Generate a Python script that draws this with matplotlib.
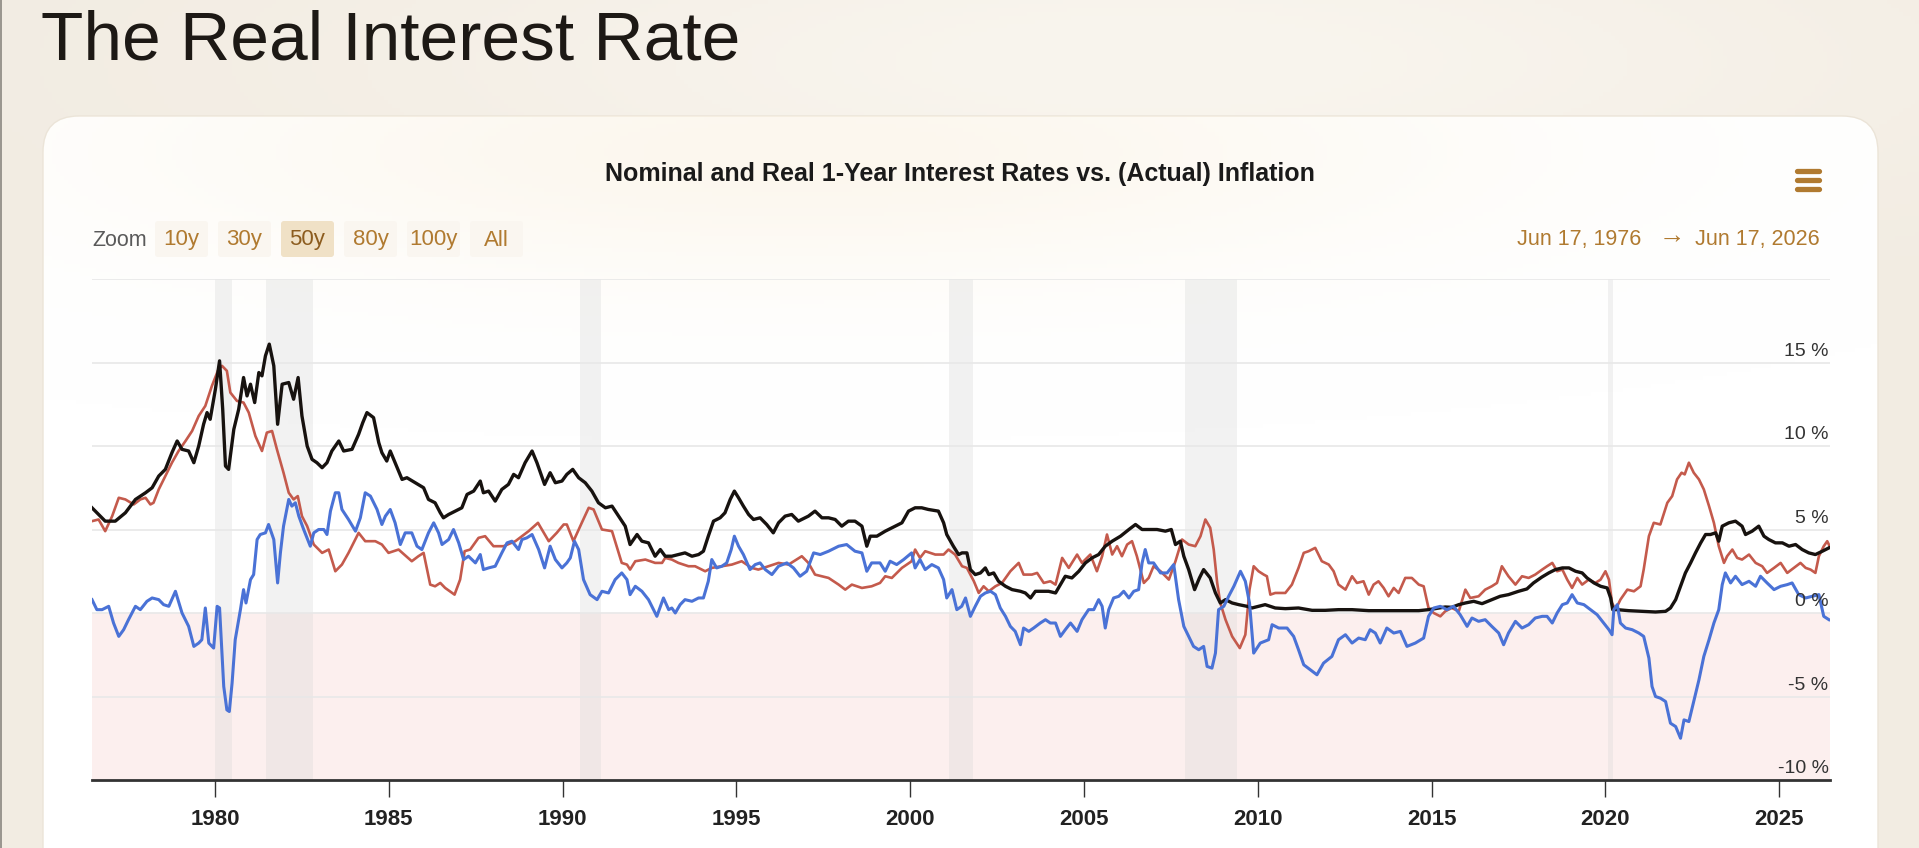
import numpy as np
import matplotlib
matplotlib.use("Agg")
import matplotlib.pyplot as plt
from matplotlib.patches import FancyBboxPatch

plt.rcParams['font.family'] = ['Liberation Sans', 'DejaVu Sans']

# ---- data (decimal years, percent) ----
nominal_year = [
    1976.46, 1976.84, 1977.13, 1977.42, 1977.71, 1978.00, 1978.19, 1978.38, 1978.57, 1978.76,
    1978.91, 1979.05, 1979.24, 1979.39, 1979.53, 1979.67, 1979.77, 1979.86, 1980.01, 1980.13,
    1980.22, 1980.30, 1980.39, 1980.54, 1980.68, 1980.82, 1980.92, 1981.02, 1981.14, 1981.26,
    1981.35, 1981.45, 1981.56, 1981.69, 1981.80, 1981.93, 1982.12, 1982.26, 1982.39, 1982.50,
    1982.65, 1982.79, 1982.93, 1983.08, 1983.22, 1983.36, 1983.56, 1983.70, 1983.94, 1984.13,
    1984.25, 1984.37, 1984.56, 1984.71, 1984.80, 1984.94, 1985.04, 1985.18, 1985.38, 1985.52,
    1985.76, 1986.00, 1986.14, 1986.33, 1986.48, 1986.57, 1986.72, 1986.91, 1987.10, 1987.25,
    1987.44, 1987.63, 1987.72, 1987.87, 1988.06, 1988.25, 1988.44, 1988.59, 1988.73, 1988.92,
    1989.12, 1989.26, 1989.48, 1989.64, 1989.79, 1989.98, 1990.12, 1990.29, 1990.46, 1990.65,
    1990.84, 1991.03, 1991.23, 1991.42, 1991.61, 1991.80, 1991.94, 1992.14, 1992.28, 1992.47,
    1992.66, 1992.81, 1992.95, 1993.14, 1993.33, 1993.52, 1993.72, 1993.91, 1994.05, 1994.19,
    1994.34, 1994.53, 1994.67, 1994.82, 1994.94, 1995.06, 1995.20, 1995.35, 1995.49, 1995.68,
    1995.87, 1996.06, 1996.21, 1996.40, 1996.59, 1996.78, 1997.07, 1997.26, 1997.46, 1997.65,
    1997.84, 1998.03, 1998.22, 1998.41, 1998.61, 1998.75, 1998.85, 1999.04, 1999.28, 1999.47,
    1999.76, 1999.95, 2000.14, 2000.33, 2000.52, 2000.81, 2000.96, 2001.05, 2001.24, 2001.39,
    2001.49, 2001.63, 2001.73, 2001.87, 2002.02, 2002.16, 2002.26, 2002.40, 2002.54, 2002.74,
    2002.93, 2003.17, 2003.31, 2003.46, 2003.60, 2003.79, 2003.98, 2004.18, 2004.32, 2004.46,
    2004.65, 2004.85, 2005.04, 2005.23, 2005.42, 2005.61, 2005.81, 2006.05, 2006.29, 2006.48,
    2006.67, 2006.86, 2007.10, 2007.34, 2007.51, 2007.63, 2007.77, 2007.87, 2008.01, 2008.18,
    2008.32, 2008.44, 2008.63, 2008.78, 2008.92, 2009.07, 2009.26, 2009.45, 2009.69, 2009.83,
    2010.21, 2010.50, 2010.79, 2011.17, 2011.56, 2011.94, 2012.32, 2012.71, 2013.19, 2013.67,
    2014.15, 2014.63, 2014.91, 2015.10, 2015.39, 2015.58, 2015.78, 2015.97, 2016.21, 2016.45,
    2016.73, 2016.97, 2017.21, 2017.50, 2017.74, 2017.93, 2018.17, 2018.37, 2018.56, 2018.76,
    2018.95, 2019.14, 2019.33, 2019.47, 2019.67, 2019.86, 2020.05, 2020.15, 2020.21, 2020.34,
    2020.67, 2021.06, 2021.44, 2021.73, 2021.87, 2022.02, 2022.16, 2022.30, 2022.45, 2022.59,
    2022.74, 2022.88, 2023.02, 2023.17, 2023.26, 2023.36, 2023.55, 2023.74, 2023.93, 2024.03,
    2024.22, 2024.41, 2024.56, 2024.70, 2024.89, 2025.09, 2025.28, 2025.47, 2025.66, 2025.85,
    2026.04, 2026.24, 2026.43,
]
nominal_rate = [
    6.3, 5.5, 5.5, 6.0, 6.8, 7.2, 7.5, 8.2, 8.6, 9.6,
    10.3, 9.8, 9.7, 9.0, 10.0, 11.3, 12.0, 11.6, 13.4, 15.1,
    12.2, 8.8, 8.6, 11.0, 12.2, 14.1, 13.0, 13.7, 12.6, 14.4,
    14.2, 15.4, 16.1, 14.8, 11.3, 13.7, 13.8, 12.8, 14.1, 11.8,
    10.0, 9.2, 9.0, 8.7, 9.0, 9.7, 10.3, 9.7, 9.8, 10.7,
    11.4, 12.0, 11.7, 10.2, 9.6, 9.1, 9.7, 9.0, 8.0, 8.1,
    7.8, 7.5, 6.8, 6.6, 6.0, 5.7, 5.9, 6.1, 6.3, 7.1,
    7.3, 7.9, 7.2, 7.3, 6.7, 7.4, 7.7, 8.3, 8.1, 9.0,
    9.7, 9.0, 7.7, 8.4, 7.8, 7.9, 8.3, 8.6, 8.1, 7.8,
    7.3, 6.6, 6.3, 6.4, 5.8, 5.2, 4.1, 4.7, 4.3, 4.2,
    3.4, 3.8, 3.4, 3.4, 3.5, 3.6, 3.4, 3.5, 3.7, 4.6,
    5.5, 5.7, 6.0, 6.8, 7.3, 6.9, 6.4, 5.9, 5.6, 5.7,
    5.3, 4.8, 5.4, 5.8, 5.9, 5.5, 5.8, 6.1, 5.7, 5.7,
    5.6, 5.2, 5.5, 5.5, 5.2, 4.0, 4.6, 4.6, 4.9, 5.1,
    5.4, 6.1, 6.3, 6.3, 6.2, 6.1, 5.4, 4.7, 4.0, 3.5,
    3.6, 3.6, 2.6, 2.3, 2.4, 2.7, 2.3, 2.4, 1.9, 1.6,
    1.4, 1.3, 1.2, 0.9, 1.3, 1.3, 1.3, 1.2, 1.7, 2.2,
    2.1, 2.5, 3.0, 3.3, 3.5, 4.0, 4.3, 4.6, 5.0, 5.3,
    5.0, 5.0, 5.0, 4.9, 5.0, 4.1, 4.3, 3.4, 2.6, 1.4,
    2.1, 2.6, 2.1, 1.2, 0.6, 0.8, 0.6, 0.5, 0.4, 0.3,
    0.5, 0.3, 0.26, 0.3, 0.16, 0.16, 0.2, 0.2, 0.14, 0.14,
    0.14, 0.14, 0.2, 0.26, 0.36, 0.34, 0.5, 0.6, 0.7, 0.56,
    0.8, 1.0, 1.1, 1.3, 1.44, 1.8, 2.15, 2.4, 2.6, 2.7,
    2.7, 2.5, 2.4, 2.1, 1.8, 1.6, 1.5, 0.9, 0.2, 0.2,
    0.14, 0.1, 0.06, 0.1, 0.3, 0.8, 1.6, 2.4, 3.0, 3.6,
    4.2, 4.7, 4.7, 4.8, 4.3, 5.2, 5.4, 5.5, 5.2, 4.7,
    4.9, 5.2, 4.6, 4.4, 4.2, 4.2, 4.0, 4.1, 3.8, 3.6,
    3.5, 3.7, 3.9,
]

inflation_year = [
    1976.46, 1976.65, 1976.84, 1977.04, 1977.23, 1977.42, 1977.66, 1977.85, 1978.00, 1978.14,
    1978.23, 1978.38, 1978.57, 1978.76, 1978.95, 1979.15, 1979.34, 1979.53, 1979.72, 1979.91,
    1980.10, 1980.20, 1980.34, 1980.44, 1980.63, 1980.82, 1980.97, 1981.16, 1981.35, 1981.49,
    1981.64, 1981.78, 1981.97, 1982.12, 1982.26, 1982.38, 1982.50, 1982.65, 1982.84, 1983.08,
    1983.27, 1983.46, 1983.65, 1983.84, 1984.13, 1984.32, 1984.61, 1984.80, 1984.99, 1985.28,
    1985.66, 1985.85, 1986.00, 1986.19, 1986.33, 1986.48, 1986.62, 1986.89, 1987.05, 1987.18,
    1987.34, 1987.58, 1987.77, 1988.01, 1988.30, 1988.64, 1989.02, 1989.29, 1989.60, 1989.83,
    1990.03, 1990.12, 1990.31, 1990.55, 1990.75, 1990.89, 1991.13, 1991.42, 1991.70, 1991.85,
    1991.94, 1992.09, 1992.38, 1992.66, 1992.86, 1992.95, 1993.14, 1993.33, 1993.62, 1993.81,
    1994.10, 1994.29, 1994.58, 1994.87, 1995.15, 1995.44, 1995.63, 1995.92, 1996.21, 1996.50,
    1996.88, 1997.07, 1997.26, 1997.65, 1997.94, 1998.13, 1998.32, 1998.61, 1998.89, 1999.13,
    1999.28, 1999.47, 1999.76, 2000.04, 2000.14, 2000.28, 2000.43, 2000.72, 2000.96, 2001.10,
    2001.29, 2001.49, 2001.63, 2001.83, 2001.97, 2002.11, 2002.26, 2002.45, 2002.64, 2002.88,
    2003.12, 2003.26, 2003.50, 2003.65, 2003.84, 2004.03, 2004.18, 2004.37, 2004.56, 2004.80,
    2004.94, 2005.18, 2005.37, 2005.52, 2005.66, 2005.81, 2005.95, 2006.09, 2006.24, 2006.38,
    2006.52, 2006.72, 2006.86, 2007.00, 2007.20, 2007.44, 2007.63, 2007.82, 2008.01, 2008.20,
    2008.35, 2008.49, 2008.63, 2008.73, 2008.83, 2008.92, 2009.07, 2009.26, 2009.48, 2009.64,
    2009.76, 2009.88, 2010.02, 2010.17, 2010.26, 2010.36, 2010.50, 2010.79, 2010.98, 2011.17,
    2011.32, 2011.46, 2011.65, 2011.84, 2012.04, 2012.18, 2012.32, 2012.52, 2012.71, 2012.85,
    2013.04, 2013.19, 2013.33, 2013.47, 2013.62, 2013.76, 2013.91, 2014.05, 2014.24, 2014.43,
    2014.63, 2014.77, 2014.91, 2015.06, 2015.25, 2015.39, 2015.58, 2015.78, 2015.97, 2016.11,
    2016.35, 2016.54, 2016.73, 2016.88, 2017.02, 2017.21, 2017.41, 2017.60, 2017.79, 2017.98,
    2018.18, 2018.32, 2018.47, 2018.61, 2018.76, 2018.90, 2019.04, 2019.19, 2019.33, 2019.52,
    2019.71, 2019.86, 2020.00, 2020.10, 2020.19, 2020.29, 2020.43, 2020.63, 2020.82, 2021.01,
    2021.10, 2021.25, 2021.39, 2021.58, 2021.78, 2021.92, 2022.06, 2022.19, 2022.28, 2022.40,
    2022.54, 2022.69, 2022.83, 2022.98, 2023.12, 2023.26, 2023.41, 2023.50, 2023.65, 2023.79,
    2023.93, 2024.13, 2024.32, 2024.51, 2024.65, 2024.85, 2025.04, 2025.23, 2025.42, 2025.61,
    2025.76, 2025.90, 2026.04, 2026.14, 2026.28, 2026.38, 2026.45,
]
inflation_rate = [
    5.5, 5.6, 4.9, 5.8, 6.9, 6.8, 6.5, 6.8, 6.9, 6.5,
    6.6, 7.4, 8.2, 9.0, 9.7, 10.3, 10.9, 11.8, 12.4, 13.6,
    14.6, 14.8, 14.5, 13.2, 12.7, 12.6, 12.0, 10.6, 9.7, 10.8,
    10.9, 9.8, 8.4, 7.2, 6.8, 7.0, 5.8, 5.2, 4.1, 3.6,
    3.8, 2.5, 2.9, 3.6, 4.8, 4.3, 4.3, 4.1, 3.6, 3.8,
    3.1, 3.4, 3.6, 1.7, 1.6, 1.8, 1.5, 1.1, 2.0, 3.7,
    3.8, 4.5, 4.6, 4.0, 4.0, 4.3, 4.9, 5.4, 4.3, 4.8,
    5.3, 5.3, 4.3, 5.4, 6.3, 6.2, 5.0, 4.9, 3.0, 2.9,
    2.6, 3.1, 3.2, 3.0, 3.0, 3.3, 3.2, 3.0, 2.8, 2.8,
    2.5, 2.7, 2.8, 2.9, 3.1, 2.7, 2.6, 2.8, 3.0, 2.9,
    3.4, 3.0, 2.3, 2.1, 1.7, 1.4, 1.7, 1.5, 1.6, 1.8,
    2.2, 2.1, 2.7, 3.1, 3.8, 3.3, 3.7, 3.5, 3.5, 3.8,
    3.5, 2.8, 2.7, 1.9, 1.2, 1.6, 1.3, 1.6, 1.8, 2.5,
    3.0, 2.3, 2.3, 2.4, 1.8, 1.9, 1.7, 3.3, 2.7, 3.5,
    3.0, 3.5, 2.5, 3.4, 4.7, 3.5, 4.0, 3.4, 4.1, 4.3,
    3.4, 1.8, 2.1, 2.8, 2.5, 2.0, 3.1, 4.4, 4.1, 4.0,
    4.6, 5.6, 5.1, 3.8, 1.8, 0.6, -0.4, -1.4, -2.1, -1.3,
    1.4, 2.8, 2.5, 2.3, 2.2, 1.1, 1.2, 1.2, 1.7, 2.7,
    3.6, 3.7, 3.9, 3.1, 2.9, 2.5, 1.7, 1.4, 2.2, 1.8,
    1.9, 1.1, 1.7, 1.9, 1.5, 1.0, 1.5, 1.2, 2.1, 2.1,
    1.7, 1.6, 0.3, 0.0, -0.2, 0.1, 0.3, 0.1, 1.4, 0.9,
    1.0, 1.4, 1.6, 1.8, 2.8, 2.2, 1.7, 2.2, 2.1, 2.3,
    2.6, 2.8, 3.0, 2.5, 2.6, 2.0, 1.5, 2.1, 1.7, 2.0,
    1.8, 2.0, 2.5, 2.0, 0.6, 0.2, 0.8, 1.4, 1.3, 1.6,
    2.6, 4.6, 5.4, 5.3, 6.6, 7.0, 8.0, 8.4, 8.3, 9.0,
    8.4, 8.0, 7.4, 6.4, 5.4, 4.0, 3.0, 3.4, 3.8, 3.3,
    3.2, 3.5, 3.0, 2.8, 2.4, 2.7, 3.0, 2.4, 2.7, 3.0,
    2.7, 2.6, 2.4, 3.4, 4.0, 4.3, 4.0,
]

real_year = [
    1976.46, 1976.60, 1976.75, 1976.94, 1977.08, 1977.23, 1977.37, 1977.51, 1977.71, 1977.85,
    1978.04, 1978.19, 1978.38, 1978.52, 1978.67, 1978.86, 1979.05, 1979.24, 1979.39, 1979.53,
    1979.62, 1979.72, 1979.82, 1979.96, 1980.06, 1980.13, 1980.25, 1980.34, 1980.41, 1980.49,
    1980.58, 1980.73, 1980.82, 1980.89, 1981.02, 1981.11, 1981.21, 1981.30, 1981.45, 1981.54,
    1981.69, 1981.80, 1981.88, 1981.97, 1982.12, 1982.21, 1982.31, 1982.41, 1982.55, 1982.74,
    1982.84, 1982.98, 1983.13, 1983.22, 1983.32, 1983.46, 1983.56, 1983.65, 1983.84, 1984.04,
    1984.18, 1984.32, 1984.47, 1984.66, 1984.80, 1984.90, 1985.04, 1985.18, 1985.33, 1985.47,
    1985.66, 1985.81, 1985.95, 1986.14, 1986.29, 1986.43, 1986.53, 1986.72, 1986.86, 1987.01,
    1987.15, 1987.29, 1987.49, 1987.63, 1987.72, 1987.87, 1988.06, 1988.25, 1988.40, 1988.54,
    1988.73, 1988.83, 1988.97, 1989.12, 1989.31, 1989.48, 1989.64, 1989.79, 1989.98, 1990.12,
    1990.22, 1990.34, 1990.46, 1990.60, 1990.79, 1990.99, 1991.13, 1991.32, 1991.51, 1991.70,
    1991.85, 1991.94, 1992.09, 1992.28, 1992.47, 1992.71, 1992.90, 1993.05, 1993.14, 1993.24,
    1993.38, 1993.52, 1993.72, 1993.91, 1994.05, 1994.19, 1994.29, 1994.43, 1994.58, 1994.72,
    1994.85, 1994.94, 1995.06, 1995.20, 1995.39, 1995.54, 1995.68, 1995.83, 1996.02, 1996.21,
    1996.45, 1996.64, 1996.83, 1997.02, 1997.22, 1997.41, 1997.65, 1997.94, 1998.17, 1998.41,
    1998.61, 1998.75, 1998.89, 1999.13, 1999.28, 1999.42, 1999.61, 1999.81, 2000.04, 2000.14,
    2000.28, 2000.43, 2000.62, 2000.81, 2000.96, 2001.05, 2001.20, 2001.34, 2001.48, 2001.59,
    2001.73, 2001.87, 2002.02, 2002.16, 2002.31, 2002.45, 2002.59, 2002.74, 2002.88, 2003.02,
    2003.17, 2003.26, 2003.41, 2003.55, 2003.74, 2003.89, 2004.03, 2004.18, 2004.32, 2004.46,
    2004.61, 2004.80, 2004.94, 2005.13, 2005.28, 2005.42, 2005.52, 2005.61, 2005.71, 2005.85,
    2006.00, 2006.14, 2006.29, 2006.43, 2006.57, 2006.67, 2006.76, 2006.86, 2007.00, 2007.20,
    2007.39, 2007.58, 2007.72, 2007.87, 2008.01, 2008.15, 2008.30, 2008.44, 2008.54, 2008.68,
    2008.78, 2008.87, 2009.02, 2009.16, 2009.31, 2009.50, 2009.64, 2009.76, 2009.88, 2010.07,
    2010.31, 2010.41, 2010.60, 2010.84, 2011.03, 2011.17, 2011.32, 2011.51, 2011.70, 2011.89,
    2012.13, 2012.32, 2012.52, 2012.71, 2012.90, 2013.09, 2013.23, 2013.38, 2013.52, 2013.71,
    2013.91, 2014.10, 2014.29, 2014.53, 2014.77, 2014.91, 2015.06, 2015.25, 2015.44, 2015.63,
    2015.82, 2016.02, 2016.16, 2016.35, 2016.54, 2016.73, 2016.93, 2017.07, 2017.21, 2017.41,
    2017.60, 2017.79, 2017.98, 2018.18, 2018.32, 2018.47, 2018.61, 2018.76, 2018.90, 2019.04,
    2019.19, 2019.38, 2019.57, 2019.76, 2019.95, 2020.10, 2020.19, 2020.24, 2020.34, 2020.43,
    2020.58, 2020.77, 2020.96, 2021.10, 2021.25, 2021.34, 2021.44, 2021.58, 2021.73, 2021.87,
    2022.02, 2022.16, 2022.26, 2022.40, 2022.54, 2022.69, 2022.83, 2022.98, 2023.12, 2023.26,
    2023.36, 2023.45, 2023.60, 2023.74, 2023.93, 2024.13, 2024.32, 2024.46, 2024.65, 2024.85,
    2025.04, 2025.23, 2025.37, 2025.56, 2025.76, 2025.95, 2026.14, 2026.28, 2026.43,
]
real_rate = [
    0.8, 0.2, 0.2, 0.4, -0.6, -1.4, -1.0, -0.4, 0.4, 0.2,
    0.7, 0.9, 0.8, 0.5, 0.4, 1.3, 0.0, -0.8, -2.0, -1.8,
    -1.6, 0.3, -1.8, -2.1, 0.4, 0.3, -4.4, -5.8, -5.9, -4.2,
    -1.6, 0.2, 1.4, 0.6, 2.0, 2.3, 4.4, 4.7, 4.8, 5.3,
    4.4, 1.8, 3.6, 5.2, 6.8, 6.4, 6.6, 5.8, 5.0, 4.0,
    4.8, 5.0, 5.0, 4.7, 6.1, 7.2, 7.2, 6.2, 5.6, 4.9,
    5.7, 7.2, 7.0, 6.2, 5.3, 5.8, 6.2, 5.4, 4.1, 4.8,
    4.8, 4.0, 3.8, 4.8, 5.4, 4.8, 4.1, 4.4, 5.0, 4.2,
    3.2, 3.4, 3.0, 3.5, 2.6, 2.7, 2.8, 3.6, 4.2, 4.3,
    3.8, 4.4, 4.5, 4.7, 3.8, 2.7, 4.0, 3.2, 2.7, 3.0,
    3.3, 4.3, 3.8, 2.0, 1.1, 0.8, 1.3, 1.2, 2.0, 2.4,
    2.0, 1.1, 1.6, 1.3, 0.8, -0.2, 0.9, 0.2, 0.3, 0.0,
    0.5, 0.8, 0.7, 0.9, 0.9, 1.9, 3.2, 2.7, 2.8, 3.0,
    3.8, 4.6, 4.0, 3.5, 2.6, 2.9, 3.0, 2.6, 2.3, 2.8,
    3.0, 2.7, 2.2, 2.5, 3.6, 3.5, 3.7, 4.0, 4.1, 3.7,
    3.6, 2.5, 3.0, 3.0, 2.5, 3.1, 2.9, 3.2, 3.6, 2.7,
    3.2, 2.6, 2.9, 2.7, 2.0, 0.9, 1.4, 0.2, 0.4, 0.9,
    -0.2, 0.4, 1.0, 1.2, 1.3, 1.1, 0.3, -0.2, -0.8, -1.1,
    -1.9, -0.9, -1.1, -0.9, -0.6, -0.4, -0.6, -0.6, -1.4, -1.0,
    -0.6, -1.1, -0.4, 0.2, 0.2, 0.8, 0.4, -0.9, 0.2, 0.9,
    1.0, 1.3, 0.9, 1.3, 1.4, 3.0, 3.8, 3.0, 3.0, 2.4,
    2.4, 2.9, 0.8, -0.8, -1.4, -2.0, -2.2, -2.0, -3.2, -3.3,
    -2.4, 0.2, 0.4, 1.0, 1.6, 2.5, 1.9, 0.6, -2.4, -1.8,
    -1.6, -0.7, -0.9, -0.9, -1.4, -2.2, -3.1, -3.4, -3.7, -3.0,
    -2.6, -1.6, -1.3, -1.8, -1.5, -1.6, -1.0, -1.2, -1.8, -0.9,
    -1.2, -1.1, -2.0, -1.8, -1.5, -0.2, 0.3, 0.4, 0.2, 0.4,
    -0.1, -0.8, -0.3, -0.5, -0.4, -0.8, -1.2, -1.9, -1.2, -0.5,
    -0.9, -0.7, -0.3, -0.2, -0.2, -0.6, 0.0, 0.5, 0.6, 1.1,
    0.6, 0.5, 0.2, -0.1, -0.6, -1.0, -1.3, 0.2, 0.5, -0.6,
    -0.9, -1.0, -1.2, -1.4, -2.7, -4.4, -5.0, -5.1, -5.3, -6.6,
    -6.8, -7.5, -6.4, -6.5, -5.3, -4.0, -2.6, -1.6, -0.6, 0.2,
    1.7, 2.4, 1.8, 2.2, 1.7, 1.9, 1.6, 2.2, 1.8, 1.4,
    1.6, 1.7, 1.8, 1.1, 0.9, 1.0, 1.1, -0.2, -0.4,
]

recession_start = [1980.00, 1981.47, 1990.51, 2001.12, 2007.90, 2020.06]
recession_end = [1980.49, 1982.81, 1991.11, 2001.80, 2009.40, 2020.23]

year_ticks = [1980, 1985, 1990, 1995, 2000, 2005, 2010, 2015, 2020, 2025]
pct_ticks = [15, 10, 5, 0, -5, -10]
zoom_labels = ['10y', '30y', '50y', '80y', '100y', 'All']

W, H = 1919, 848
BROWN = '#b07a30'

fig = plt.figure(figsize=(W / 100, H / 100), dpi=100)
fig.patch.set_facecolor('#f3ede3')

# page / card layer in pixel coordinates
bg = fig.add_axes([0, 0, 1, 1])
bg.set_xlim(0, W)
bg.set_ylim(H, 0)
bg.axis('off')

# soft warm glow behind the header
gy, gx = np.mgrid[0:H:4, 0:W:4]
glow = np.exp(-(((gx - 1150) / 750.0) ** 2 + ((gy - 60) / 160.0) ** 2))
base = np.array([242, 236, 226]) / 255.0
light = np.array([249, 245, 238]) / 255.0
page = base + (light - base) * glow[..., None]
bg.imshow(page, extent=[0, W, H, 0], aspect='auto', zorder=0)
bg.plot([1, 1], [0, H], color='#8a8680', lw=1.2, zorder=1)

card = FancyBboxPatch((43, 116), 1835, 900, boxstyle='round,pad=0,rounding_size=36',
                      fc='white', ec='#ebe4d8', lw=1.0, zorder=2)
bg.add_patch(card)

# cream tint inside the top of the card
tint = np.zeros(gx.shape + (4,))
tint[..., :3] = np.array([250, 241, 224]) / 255.0
tint[..., 3] = 0.55 * np.exp(-(((gx - 800) / 650.0) ** 2 + ((gy - 150) / 130.0) ** 2))
im = bg.imshow(tint, extent=[0, W, H, 0], aspect='auto', zorder=3)
im.set_clip_path(card)

bg.text(41, 60, 'The Real Interest Rate', fontsize=50, color='#1d1915',
        ha='left', va='baseline', zorder=5)
bg.text(960, 174, 'Nominal and Real 1-Year Interest Rates vs. (Actual) Inflation',
        fontsize=18, fontweight='bold', color='#1a1a1a', ha='center', va='center', zorder=5)

# hamburger menu
for yb in (171, 180, 188.5):
    bg.plot([1797, 1819], [yb, yb], color=BROWN, lw=3.8, solid_capstyle='round', zorder=5)

# zoom buttons
bg.text(92, 240, 'Zoom', fontsize=15.5, color='#5a5a5a', ha='left', va='center', zorder=5)
for i, lab in enumerate(zoom_labels):
    x0 = 155 + i * 63
    sel = (lab == '50y')
    bg.add_patch(FancyBboxPatch((x0, 221), 53, 36, boxstyle='round,pad=0,rounding_size=3',
                                fc='#f0e1c6' if sel else '#faf6f0', ec='none', zorder=4))
    bg.text(x0 + 26.5, 240, lab, fontsize=16, color='#8c5c1e' if sel else BROWN,
            ha='center', va='center', zorder=5)

# date range
bg.text(1641, 240, 'Jun 17, 1976', fontsize=15.5, color=BROWN, ha='right', va='center', zorder=5)
bg.text(1672, 236, '\u2192', fontsize=19, color=BROWN, ha='center', va='center', zorder=5)
bg.text(1820, 240, 'Jun 17, 2026', fontsize=15.5, color=BROWN, ha='right', va='center', zorder=5)

# ---- the chart itself ----
ax = fig.add_axes([92 / W, (H - 780) / H, (1830 - 92) / W, (780 - 279) / H])
ax.set_facecolor('none')
ax.set_xlim(1976.46, 2026.46)
ax.set_ylim(-10, 20)

ax.axhspan(-10, 0, color='#fcefee', lw=0, zorder=0)
for s, e in zip(recession_start, recession_end):
    ax.axvspan(s, e, color='#d6d6d6', alpha=0.3, lw=0, zorder=1)
for v in [20, 15, 10, 5, 0, -5]:
    ax.axhline(v, color='#e8e8e8', lw=1.2, zorder=1)

ax.plot(inflation_year, inflation_rate, color='#c45a4c', lw=1.9, zorder=3)
ax.plot(nominal_year, nominal_rate, color='#17120f', lw=2.4, zorder=4)
ax.plot(real_year, real_rate, color='#4a72d6', lw=2.2, zorder=5)

for v in pct_ticks:
    ax.annotate(f'{v} %', xy=(1, v), xycoords=('axes fraction', 'data'),
                xytext=(-1, 2), textcoords='offset points', ha='right', va='bottom',
                fontsize=14, color='#333333', zorder=6)

for side in ('top', 'left', 'right'):
    ax.spines[side].set_visible(False)
ax.spines['bottom'].set_color('#333333')
ax.spines['bottom'].set_linewidth(2)
ax.set_yticks([])
ax.set_xticks(year_ticks)
ax.set_xticklabels([str(y) for y in year_ticks], fontsize=16, fontweight='bold', color='#222222')
ax.tick_params(axis='x', direction='out', length=12, width=1, color='#333333', pad=9)

fig.savefig('out.png', dpi=100, facecolor=fig.get_facecolor())
